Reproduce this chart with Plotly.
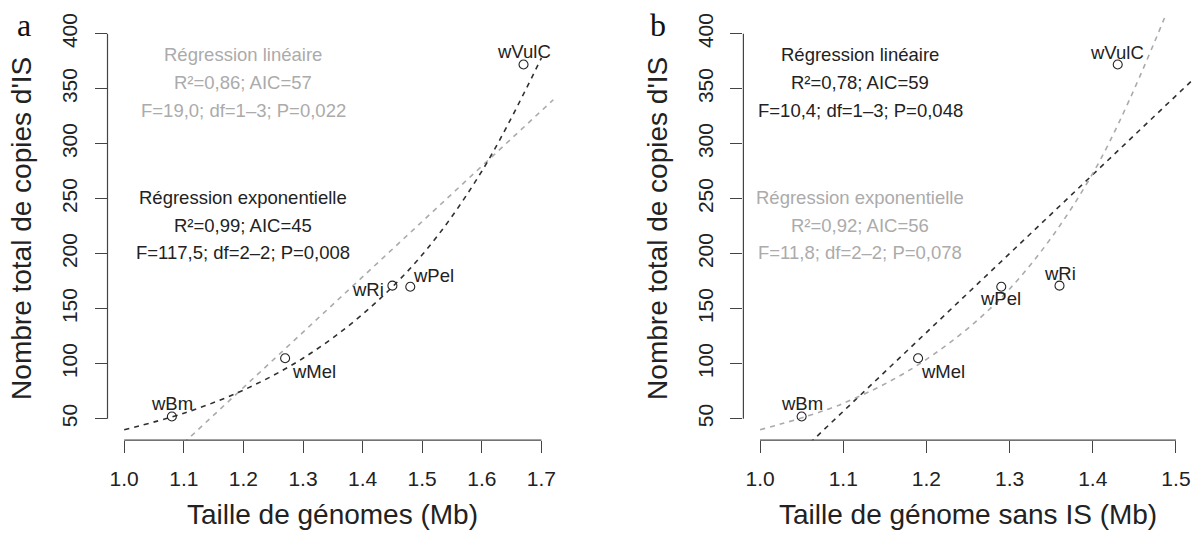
import plotly.graph_objects as go

W, H = 1197, 533

# ---------------- data ----------------
strains_a = ["wBm", "wMel", "wRi", "wPel", "wVulC"]
genome_a = [1.08, 1.27, 1.45, 1.48, 1.67]          # Mb
copies = [52, 105, 171, 170, 372]                   # total IS copies

strains_b = ["wBm", "wMel", "wRi", "wPel", "wVulC"]
genome_b = [1.05, 1.19, 1.36, 1.29, 1.43]           # Mb without IS

# regression curves
lin_a_x = [1.10, 1.72]
lin_a_y = [28, 340]
exp_a_x = [1.0, 1.1, 1.2, 1.3, 1.4, 1.5, 1.6, 1.7]
exp_a_y = [40, 55, 76, 105, 145, 199, 275, 378]

lin_b_x = [1.06, 1.52]
lin_b_y = [28, 358]
exp_b_x = [1.0, 1.1, 1.2, 1.3, 1.4, 1.5]
exp_b_y = [40, 64, 104, 168, 273, 440]

xticks_a = [1.0, 1.1, 1.2, 1.3, 1.4, 1.5, 1.6, 1.7]
xticks_b = [1.0, 1.1, 1.2, 1.3, 1.4, 1.5]
yticks = [50, 100, 150, 200, 250, 300, 350, 400]

stats_a_lin = ["Régression linéaire", "R²=0,86; AIC=57", "F=19,0; df=1–3; P=0,022"]
stats_a_exp = ["Régression exponentielle", "R²=0,99; AIC=45", "F=117,5; df=2–2; P=0,008"]
stats_b_lin = ["Régression linéaire", "R²=0,78; AIC=59", "F=10,4; df=1–3; P=0,048"]
stats_b_exp = ["Régression exponentielle", "R²=0,92; AIC=56", "F=11,8; df=2–2; P=0,078"]

# label offsets (pixels) for point names, same order as strains
offs_a = [(0, 13), (29, -13), (-24, -4), (23, 11), (0, 13)]
offs_b = [(0, 13), (25, -13), (0, 12), (-1, -12), (-1, 12)]

# ---------------- style ----------------
DARK = "#303030"
GRAY = "#ababab"
AXC = "#444444"
FONT = "Liberation Sans, Arial, sans-serif"
DASH = "5px,5px"

def px(x):
    return x / W

def py(y):
    return 1 - y / H

fig = go.Figure()

# panel a
fig.add_trace(go.Scatter(x=lin_a_x, y=lin_a_y, mode="lines",
                         line=dict(color=GRAY, width=1.6, dash=DASH),
                         xaxis="x", yaxis="y", hoverinfo="skip"))
fig.add_trace(go.Scatter(x=exp_a_x, y=exp_a_y, mode="lines",
                         line=dict(color=DARK, width=1.6, dash=DASH, shape="spline"),
                         xaxis="x", yaxis="y", hoverinfo="skip"))
fig.add_trace(go.Scatter(x=genome_a, y=copies, mode="markers",
                         marker=dict(symbol="circle-open", size=9, color="#222",
                                     line=dict(width=1.1, color="#222")),
                         xaxis="x", yaxis="y"))

# panel b
fig.add_trace(go.Scatter(x=lin_b_x, y=lin_b_y, mode="lines",
                         line=dict(color=DARK, width=1.6, dash=DASH),
                         xaxis="x2", yaxis="y2", hoverinfo="skip"))
fig.add_trace(go.Scatter(x=exp_b_x, y=exp_b_y, mode="lines",
                         line=dict(color=GRAY, width=1.6, dash=DASH, shape="spline"),
                         xaxis="x2", yaxis="y2", hoverinfo="skip"))
fig.add_trace(go.Scatter(x=genome_b, y=copies, mode="markers",
                         marker=dict(symbol="circle-open", size=9, color="#222",
                                     line=dict(width=1.1, color="#222")),
                         xaxis="x2", yaxis="y2"))

# invisible traces so the label-only y axes get drawn
fig.add_trace(go.Scatter(x=genome_a, y=copies, mode="markers", marker=dict(opacity=0),
                         xaxis="x", yaxis="y3", hoverinfo="skip"))
fig.add_trace(go.Scatter(x=genome_b, y=copies, mode="markers", marker=dict(opacity=0),
                         xaxis="x2", yaxis="y4", hoverinfo="skip"))

ydom = [py(439.3), py(12.9)]
yrange = [30.5, 414.5]

common_x = dict(showgrid=False, zeroline=False, showline=False, ticks="outside",
                ticklen=12, tickwidth=1.2, tickcolor=AXC,
                tickfont=dict(family=FONT, size=21, color="#222"),
                tickformat=".1f", ticklabelstandoff=8, fixedrange=True)
# tick marks only
ymarks = dict(showgrid=False, zeroline=False, showline=False, ticks="outside",
              ticklen=12, tickwidth=1.2, tickcolor=AXC, showticklabels=False,
              tickvals=yticks, range=yrange, domain=ydom, fixedrange=True)
# tick labels only (shifted a little further out, R style)
ylabels = dict(showgrid=False, zeroline=False, showline=False, ticks="outside",
               ticklen=12, tickcolor="rgba(0,0,0,0)", tickangle=-90,
               tickfont=dict(family=FONT, size=21, color="#222"),
               tickvals=yticks, range=yrange, fixedrange=True, anchor="free")

fig.update_layout(
    width=W, height=H, margin=dict(l=0, r=0, t=0, b=0),
    paper_bgcolor="white", plot_bgcolor="white", showlegend=False,
    xaxis=dict(domain=[px(107.5), px(558.1)], range=[0.972, 1.728],
               tickvals=xticks_a, anchor="y", **common_x),
    yaxis=dict(anchor="x", **ymarks),
    xaxis2=dict(domain=[px(743.4), px(1192.6)], range=[0.98, 1.52],
                tickvals=xticks_b, anchor="y2", **common_x),
    yaxis2=dict(anchor="x2", **ymarks),
    yaxis3=dict(overlaying="y", position=px(97.5), **ylabels),
    yaxis4=dict(overlaying="y2", position=px(733.4), **ylabels),
)

# axis lines spanning first to last tick (R style)
shapes = []
for xr, yr, xt in (("x", "y", xticks_a), ("x2", "y2", xticks_b)):
    shapes.append(dict(type="line", xref=xr, yref=yr + " domain",
                       x0=xt[0], x1=xt[-1], y0=0, y1=0,
                       line=dict(color=AXC, width=1.2)))
    shapes.append(dict(type="line", xref=xr + " domain", yref=yr,
                       x0=0, x1=0, y0=yticks[0], y1=yticks[-1],
                       line=dict(color=AXC, width=1.2)))
fig.update_layout(shapes=shapes)

ann = []
# point labels
for names, gx, offs, xr, yr in ((strains_a, genome_a, offs_a, "x", "y"),
                                (strains_b, genome_b, offs_b, "x2", "y2")):
    for n, xv, yv, (dx, dy) in zip(names, gx, copies, offs):
        ann.append(dict(x=xv, y=yv, xref=xr, yref=yr, text=n, showarrow=False,
                        xshift=dx, yshift=dy,
                        font=dict(family=FONT, size=18.5, color="#222")))

# stats text
line_y = [50, 78, 106, 194, 222.5, 250]
for cx, top, bottom, ctop, cbot in ((243, stats_a_lin, stats_a_exp, GRAY, "#222"),
                                    (860, stats_b_lin, stats_b_exp, "#222", GRAY)):
    for i, t in enumerate(top + bottom):
        ann.append(dict(x=px(cx), y=py(line_y[i]), xref="paper", yref="paper",
                        text=t, showarrow=False, xanchor="center", yanchor="middle",
                        font=dict(family=FONT, size=18.5, color=ctop if i < 3 else cbot)))

# axis titles
for cx in (22, 658):
    ann.append(dict(x=px(cx), y=py(226), xref="paper", yref="paper",
                    text="Nombre total de copies d'IS", textangle=-90, showarrow=False,
                    xanchor="center", yanchor="middle",
                    font=dict(family=FONT, size=28, color="#222")))
ann.append(dict(x=px(332), y=py(514), xref="paper", yref="paper",
                text="Taille de génomes (Mb)", showarrow=False,
                xanchor="center", yanchor="middle",
                font=dict(family=FONT, size=28, color="#222")))
ann.append(dict(x=px(968), y=py(514), xref="paper", yref="paper",
                text="Taille de génome sans IS (Mb)", showarrow=False,
                xanchor="center", yanchor="middle",
                font=dict(family=FONT, size=28, color="#222")))

# panel letters
for cx, t in ((24, "a"), (658, "b")):
    ann.append(dict(x=px(cx), y=py(20), xref="paper", yref="paper", text=t,
                    showarrow=False, xanchor="center", yanchor="middle",
                    font=dict(family="Liberation Serif, Times New Roman, serif",
                              size=32, color="#111")))

fig.update_layout(annotations=ann)
fig.write_html("out.html")
